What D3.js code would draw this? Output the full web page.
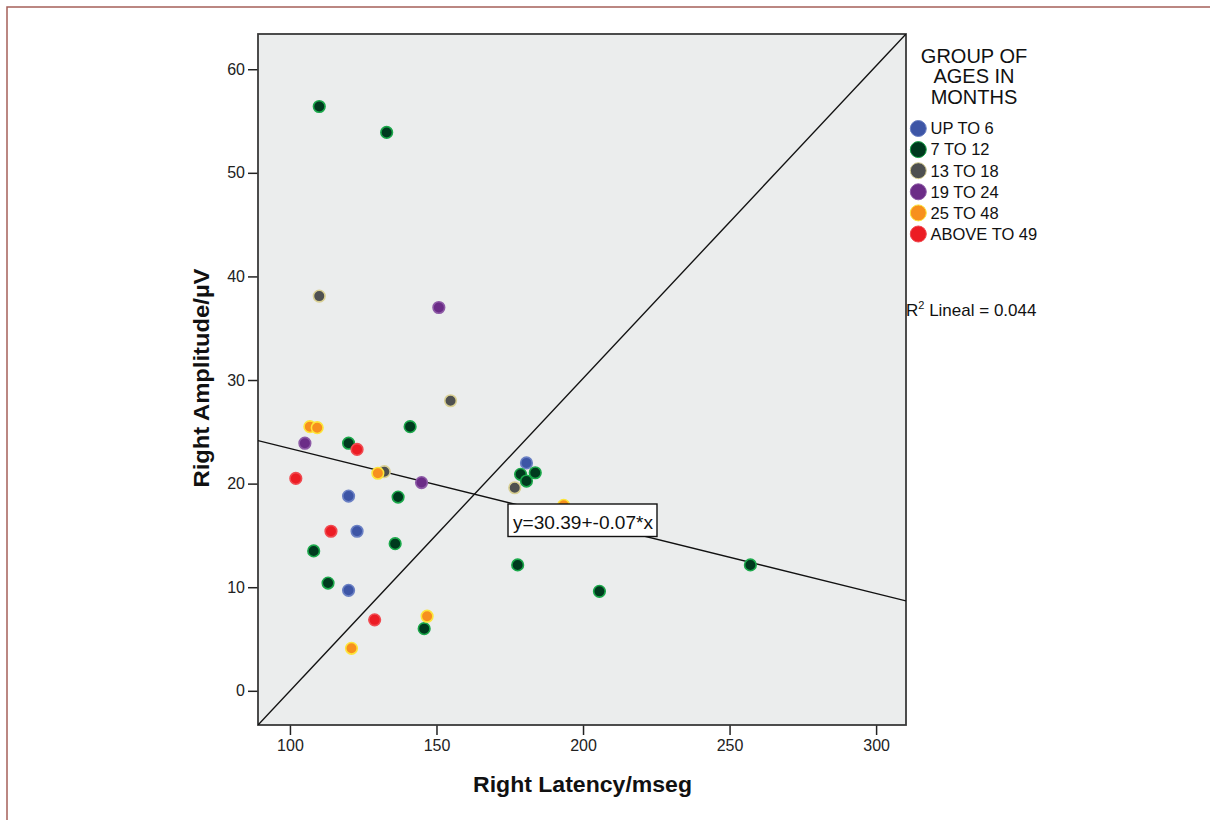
<!DOCTYPE html>
<html>
<head>
<meta charset="utf-8">
<script src="https://cdn.jsdelivr.net/npm/d3@7"></script>
<style>
  html, body { margin: 0; padding: 0; background: #fff; }
  svg { display: block; font-family: "Liberation Sans", Arial, sans-serif; }
</style>
</head>
<body>
<svg id="chart" width="1216" height="820"></svg>
<script>
// ---- data ----
const groups = ["UP TO 6", "7 TO 12", "13 TO 18", "19 TO 24", "25 TO 48", "ABOVE TO 49"];
const latencyUpTo6 = [180.7, 120, 122.9, 120];
const amplitudeUpTo6 = [22.0, 18.8, 15.4, 9.7];
const latency7to12 = [110, 133, 141, 120, 178.7, 183.7, 180.7, 136.9, 108.1, 135.9, 177.7, 113, 145.8, 205.6, 257.1];
const amplitude7to12 = [56.4, 53.9, 25.5, 23.9, 20.9, 21.05, 20.25, 18.7, 13.5, 14.2, 12.15, 10.4, 6.0, 9.6, 12.15];
const latency13to18 = [110, 154.8, 176.7, 132.2];
const amplitude13to18 = [38.1, 28.0, 19.6, 21.15];
const latency19to24 = [150.8, 105.1, 144.9];
const amplitude19to24 = [37.0, 23.9, 20.1];
const latency25to48 = [106.8, 109.3, 130, 146.8, 121, 193.4];
const amplitude25to48 = [25.5, 25.4, 21.0, 7.2, 4.1, 17.9];
const latencyAbove49 = [102, 122.9, 114, 128.9];
const amplitudeAbove49 = [20.5, 23.3, 15.4, 6.85];
const xTicks = [100, 150, 200, 250, 300];
const yTicks = [0, 10, 20, 30, 40, 50, 60];
const fitIntercept = 30.39;
const fitSlope = -0.07;
const fitLabel = "y=30.39+-0.07*x";
const r2Value = "0.044";

const seriesLat = [latencyUpTo6, latency7to12, latency13to18, latency19to24, latency25to48, latencyAbove49];
const seriesAmp = [amplitudeUpTo6, amplitude7to12, amplitude13to18, amplitude19to24, amplitude25to48, amplitudeAbove49];
const fills = ["#3d55a6", "#003a1e", "#4e5050", "#6b2c87", "#f7901e", "#ec1c24"];
const strokes = ["#6a80c4", "#1aa84a", "#d8cf92", "#8d5aa6", "#fde53a", "#f04a50"];

// ---- layout ----
const svg = d3.select("#chart");
const L = 258, T = 34, R = 906, B = 725;
const x = d3.scaleLinear().domain([89.1, 310.2]).range([L, R]);
const y = d3.scaleLinear().domain([-3.3, 63.4]).range([B, T]);

// outer border (top & left)
svg.append("path").attr("d", "M7,820 L7,7 L1210,7")
  .attr("fill", "none").attr("stroke", "#a5605a").attr("stroke-width", 1.5);

// plot background
svg.append("rect").attr("x", L).attr("y", T).attr("width", R - L).attr("height", B - T)
  .attr("fill", "#ebeded");

// axes
const xAxis = svg.append("g").attr("transform", `translate(0,${B})`)
  .call(d3.axisBottom(x).tickValues(xTicks).tickSize(10).tickSizeOuter(0).tickPadding(5));
const yAxis = svg.append("g").attr("transform", `translate(${L},0)`)
  .call(d3.axisLeft(y).tickValues(yTicks).tickSize(10).tickSizeOuter(0).tickPadding(3));
[xAxis, yAxis].forEach(g => {
  g.select(".domain").remove();
  g.selectAll("line").attr("stroke", "#222").attr("stroke-width", 1.5);
  g.selectAll("text").attr("font-size", 16).attr("fill", "#222");
});

// plot frame
svg.append("rect").attr("x", L).attr("y", T).attr("width", R - L).attr("height", B - T)
  .attr("fill", "none").attr("stroke", "#3a3a3a").attr("stroke-width", 1.8);

svg.append("clipPath").attr("id", "pc")
  .append("rect").attr("x", L).attr("y", T).attr("width", R - L).attr("height", B - T);
const plot = svg.append("g").attr("clip-path", "url(#pc)");

// diagonal reference line (corner to corner)
const xd = x.domain(), yd = y.domain();
plot.append("line")
  .attr("x1", x(xd[0])).attr("y1", y(yd[0]))
  .attr("x2", x(xd[1])).attr("y2", y(yd[1]))
  .attr("stroke", "#111").attr("stroke-width", 1.4);

// fit line
plot.append("line")
  .attr("x1", x(xd[0])).attr("y1", y(fitIntercept + fitSlope * xd[0]))
  .attr("x2", x(xd[1])).attr("y2", y(fitIntercept + fitSlope * xd[1]))
  .attr("stroke", "#111").attr("stroke-width", 1.4);

// points
seriesLat.forEach((lats, gi) => {
  plot.append("g").selectAll("circle")
    .data(lats.map((v, i) => [v, seriesAmp[gi][i]]))
    .join("circle")
    .attr("cx", d => x(d[0])).attr("cy", d => y(d[1]))
    .attr("r", 5.8)
    .attr("fill", fills[gi]).attr("stroke", strokes[gi]).attr("stroke-width", 1.6);
});

// fit label box
const lbx = 508, lby = 504;
const lab = svg.append("g");
lab.append("rect").attr("x", lbx).attr("y", lby).attr("width", 149).attr("height", 32.5)
  .attr("fill", "#fff").attr("stroke", "#111").attr("stroke-width", 1.4);
lab.append("text").attr("x", lbx + 5).attr("y", lby + 24.5).attr("font-size", 18.5)
  .attr("textLength", 140).attr("lengthAdjust", "spacingAndGlyphs")
  .attr("fill", "#111").text(fitLabel);

// axis titles
svg.append("text").attr("x", 582.5).attr("y", 792).attr("text-anchor", "middle")
  .attr("font-size", 22.5).attr("font-weight", "bold").attr("fill", "#111")
  .attr("textLength", 219).attr("lengthAdjust", "spacingAndGlyphs")
  .text("Right Latency/mseg");
svg.append("text").attr("transform", `translate(209,378) rotate(-90)`)
  .attr("text-anchor", "middle")
  .attr("font-size", 22.5).attr("font-weight", "bold").attr("fill", "#111")
  .attr("textLength", 219).attr("lengthAdjust", "spacingAndGlyphs")
  .text("Right Amplitude/µV");

// legend
const lg = svg.append("g");
["GROUP OF", "AGES IN", "MONTHS"].forEach((t, i) => {
  lg.append("text").attr("x", 974).attr("y", 63 + i * 20.3).attr("text-anchor", "middle")
    .attr("font-size", 20).attr("fill", "#111").text(t);
});
groups.forEach((g, i) => {
  const yy = 128.5 + i * 21.1;
  lg.append("circle").attr("cx", 918.3).attr("cy", yy).attr("r", 8).attr("fill", fills[i])
    .attr("stroke", strokes[i]).attr("stroke-width", 1);
  lg.append("text").attr("x", 930.5).attr("y", yy + 5.8).attr("font-size", 16.5).attr("fill", "#111")
    .text(g);
});
const r2 = lg.append("text").attr("x", 906).attr("y", 316).attr("font-size", 17).attr("fill", "#111");
r2.append("tspan").text("R");
r2.append("tspan").attr("dy", -7).attr("font-size", 11).text("2");
r2.append("tspan").attr("dy", 7).text(" Lineal = " + r2Value);
</script>
</body>
</html>
